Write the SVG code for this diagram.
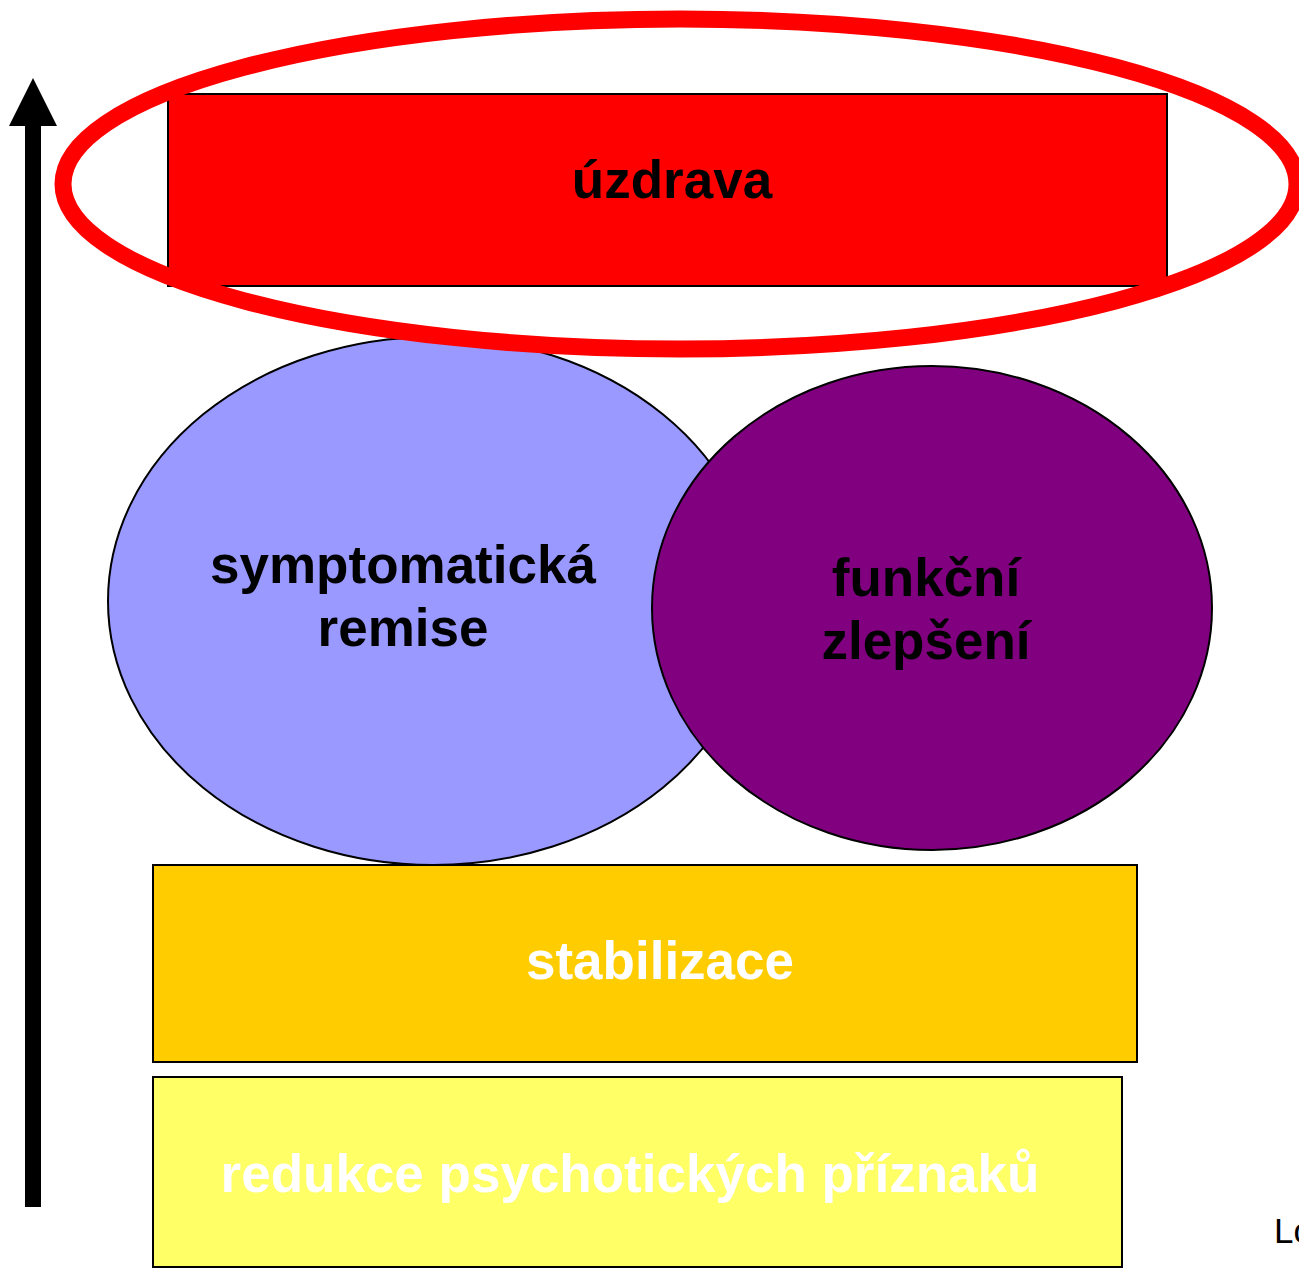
<svg xmlns="http://www.w3.org/2000/svg" width="1299" height="1268" viewBox="0 0 1299 1268">
<style>
.t{font-family:"Liberation Sans",Arial,sans-serif;font-weight:bold;font-size:53px;text-anchor:middle}
.k{fill:#000}
.w{fill:#fff}
.box{stroke:#000;stroke-width:2}
</style>
<rect width="1299" height="1268" fill="#fff"/>
<g id="axis">
<rect x="25" y="124" width="16" height="1083" fill="#000"/>
<polygon points="33,78 9,126 57,126" fill="#000"/>
</g>
<g id="reduction">
<rect class="box" x="153" y="1077" width="969" height="190" fill="#FFFF66"/>
<text class="t w" x="630" y="1192">redukce psychotických příznaků</text>
</g>
<g id="stabilization">
<rect class="box" x="153" y="865" width="984" height="197" fill="#FFCC00"/>
<text class="t w" x="660" y="979">stabilizace</text>
</g>
<g id="remission">
<ellipse class="box" cx="433" cy="601" rx="325" ry="264" stroke-width="1.5" fill="#9999FF"/>
<text class="t k" x="403" y="583">symptomatická</text>
<text class="t k" x="403" y="646">remise</text>
</g>
<g id="function">
<ellipse class="box" cx="932" cy="608" rx="280" ry="242" stroke-width="1.5" fill="#800080"/>
<text class="t k" x="926" y="596">funkční</text>
<text class="t k" x="926" y="659">zlepšení</text>
</g>
<g id="recovery">
<rect class="box" x="168" y="94" width="999" height="192" fill="#FF0000"/>
<text class="t k" x="672" y="198">úzdrava</text>
</g>
<g id="highlight">
<ellipse cx="680" cy="184" rx="617" ry="165" fill="none" stroke="#FF0000" stroke-width="17"/>
</g>
<text x="1274" y="1243" font-family="Liberation Sans,Arial,sans-serif" font-size="35" fill="#000">Lo</text>
</svg>
